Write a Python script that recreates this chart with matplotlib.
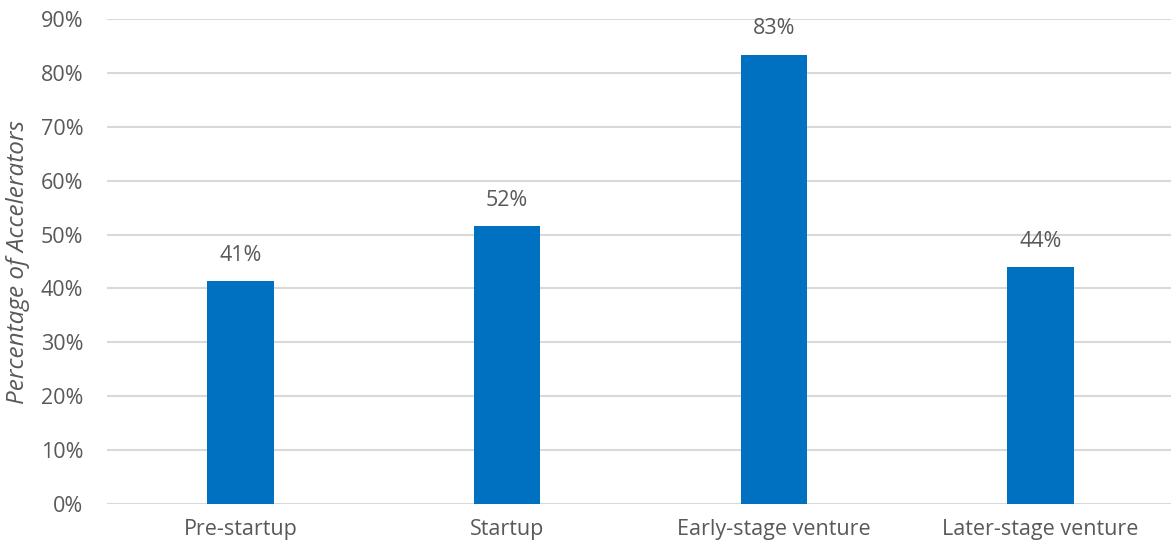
import matplotlib
matplotlib.use("Agg")
import matplotlib.pyplot as plt
from matplotlib.ticker import PercentFormatter

categories = ["Pre-startup", "Startup", "Early-stage venture", "Later-stage venture"]
shares = [0.414, 0.516, 0.834, 0.44]
y_ticks = [0.0, 0.1, 0.2, 0.3, 0.4, 0.5, 0.6, 0.7, 0.8, 0.9]

W, H = 1171, 548
fig = plt.figure(figsize=(W / 100, H / 100), dpi=100)
plt.rcParams["font.family"] = ["Open Sans", "DejaVu Sans"]
text_color = "#595959"
bar_color = "#0070C0"
fs = 15.5

left, right = 107 / W, 1174 / W
bottom, top = 1 - 504 / H, 1 - 19 / H
ax = fig.add_axes([left, bottom, right - left, top - bottom])

x = list(range(len(categories)))
ax.bar(x, shares, width=0.25, color=bar_color, zorder=3)
for xi, v in zip(x, shares):
    ax.text(xi, v + 0.028, f"{round(v * 100):.0f}%", ha="center", va="bottom",
            fontsize=fs, color=text_color)

ax.set_xlim(-0.5, len(categories) - 0.5)
ax.set_ylim(0, 0.9)
ax.set_yticks(y_ticks)
ax.yaxis.set_major_formatter(PercentFormatter(1.0, decimals=0))
ax.set_xticks(x)
ax.set_xticklabels(categories)
ax.tick_params(axis="both", length=0, labelsize=fs, labelcolor=text_color)
ax.tick_params(axis="x", pad=11)
ax.tick_params(axis="y", pad=17)
ax.grid(axis="y", color="#D9D9D9", linewidth=1.5, zorder=0)
for s in ax.spines.values():
    s.set_visible(False)

ax.set_ylabel("Percentage of Accelerators", fontsize=17.5, style="italic",
              color=text_color, labelpad=8)

fig.savefig("out.png", dpi=100)
